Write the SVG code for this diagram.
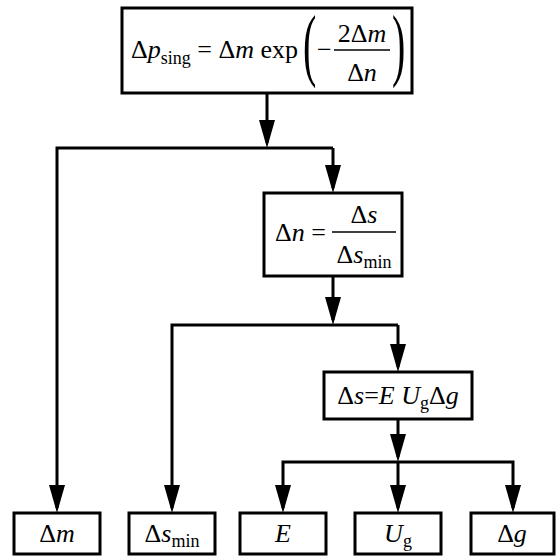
<svg xmlns="http://www.w3.org/2000/svg" width="557" height="560" viewBox="0 0 557 560">
<style>
.box{fill:#fff;stroke:#000;stroke-width:3}
.arr{fill:none;stroke:#000;stroke-width:3;stroke-linejoin:miter;marker-end:url(#ah)}
.t{font-family:'Liberation Serif','Times New Roman',serif;font-size:26px;fill:#000}
.i{font-style:italic}
.sub{font-size:18px}
.frac{stroke:#000;stroke-width:1.3}
.par{font-size:40px}
</style>
<defs>
<marker id="ah" viewBox="0 0 28 16" refX="23" refY="8" markerWidth="28" markerHeight="16" markerUnits="userSpaceOnUse" orient="auto">
<path d="M0,0 L28,8 L0,16 z" fill="#000"/>
</marker>
</defs>
<rect width="557" height="560" fill="#fff"/>
<g id="connectors">
<path class="arr" d="M267,93 V143"/>
<path class="arr" d="M333,148 H57 V508"/>
<path class="arr" d="M333,148 V188"/>
<path class="arr" d="M333,276 V320"/>
<path class="arr" d="M398,325 H172 V508"/>
<path class="arr" d="M398,325 V367"/>
<path class="arr" d="M398,419 V457"/>
<path class="arr" d="M398,462 H283 V508"/>
<path class="arr" d="M398,462 H513 V508"/>
<path class="arr" d="M398,462 V508"/>
</g>
<g id="node-psing" class="t">
<rect class="box" x="122" y="8" width="290" height="85"/>
<text x="298" y="58" text-anchor="end">Δ<tspan class="i">p</tspan><tspan class="sub" dy="6">sing</tspan><tspan dy="-6"> = Δ</tspan><tspan class="i">m</tspan> exp</text>
<text class="par" transform="translate(303,71) scale(1,2)">(</text>
<text x="317" y="58">−</text>
<line class="frac" x1="334" y1="50" x2="390" y2="50"/>
<text x="362" y="42" text-anchor="middle">2Δ<tspan class="i">m</tspan></text>
<text x="362" y="81" text-anchor="middle">Δ<tspan class="i">n</tspan></text>
<text class="par" transform="translate(392,71) scale(1,2)">)</text>
</g>
<g id="node-dn" class="t">
<rect class="box" x="264" y="193" width="138" height="83"/>
<text x="326" y="241" text-anchor="end">Δ<tspan class="i">n</tspan> =</text>
<line class="frac" x1="332" y1="232" x2="396" y2="232"/>
<text x="364" y="223" text-anchor="middle">Δ<tspan class="i">s</tspan></text>
<text x="364" y="263" text-anchor="middle">Δ<tspan class="i">s</tspan><tspan class="sub" dy="5">min</tspan></text>
</g>
<g id="node-ds" class="t">
<rect class="box" x="324" y="372" width="148" height="47"/>
<text x="398" y="404" text-anchor="middle">Δ<tspan class="i">s</tspan>=<tspan class="i">E</tspan> <tspan class="i">U</tspan><tspan class="sub" dy="5">g</tspan><tspan dy="-5">Δ</tspan><tspan class="i">g</tspan></text>
</g>
<g id="node-m" class="t">
<rect class="box" x="14" y="513" width="86" height="41"/>
<text x="57" y="542" text-anchor="middle">Δ<tspan class="i">m</tspan></text>
</g>
<g id="node-smin" class="t">
<rect class="box" x="129" y="513" width="86" height="41"/>
<text x="172" y="542" text-anchor="middle">Δ<tspan class="i">s</tspan><tspan class="sub" dy="5">min</tspan></text>
</g>
<g id="node-E" class="t">
<rect class="box" x="240" y="513" width="86" height="41"/>
<text x="283" y="542" text-anchor="middle" class="i">E</text>
</g>
<g id="node-Ug" class="t">
<rect class="box" x="355" y="513" width="86" height="41"/>
<text x="398" y="542" text-anchor="middle"><tspan class="i">U</tspan><tspan class="sub" dy="5">g</tspan></text>
</g>
<g id="node-dg" class="t">
<rect class="box" x="471" y="513" width="83" height="41"/>
<text x="512" y="542" text-anchor="middle">Δ<tspan class="i">g</tspan></text>
</g>
</svg>
